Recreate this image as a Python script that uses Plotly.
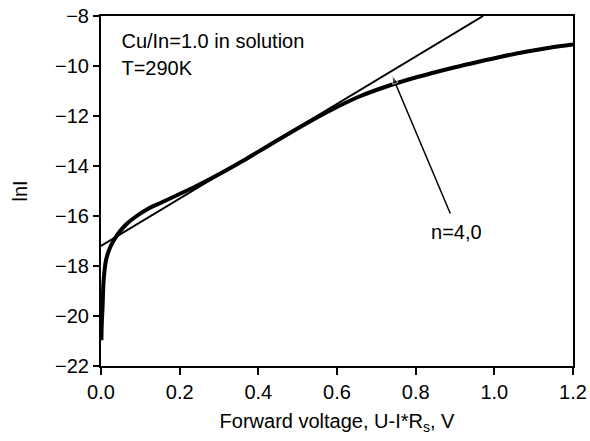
import plotly.graph_objects as go

# Measured curve lnI vs forward voltage
volt = [0.001, 0.002, 0.004, 0.0068, 0.0127, 0.0236, 0.0407, 0.0618, 0.087, 0.121,
        0.155, 0.197, 0.24, 0.30, 0.36, 0.42, 0.48, 0.54, 0.60, 0.66,
        0.72, 0.78, 0.84, 0.90, 0.96, 1.02, 1.08, 1.14, 1.2]
ln_i = [-20.97, -20.3, -19.64, -18.57, -17.77, -17.24, -16.77, -16.37, -16.04, -15.7,
        -15.45, -15.14, -14.82, -14.33, -13.80, -13.24, -12.68, -12.14, -11.64, -11.20,
        -10.85, -10.55, -10.29, -10.05, -9.83, -9.62, -9.43, -9.27, -9.14]

# Linear fit (n = 4.0)
fit_x = [0.0, 0.9715]
fit_y = [-17.2, -8.0]

# Text notes and pointer arrow (data coordinates)
note_x = [0.052, 0.052]
note_y = [-9.08, -10.15]
note_text = ["Cu/In=1.0 in solution", "T=290K"]
label_x = [0.9035]
label_y = [-16.73]
label_text = ["n=4,0"]
arrow_x = [0.888, 0.740]
arrow_y = [-15.9, -10.38]

x_ticks = [0.0, 0.2, 0.4, 0.6, 0.8, 1.0, 1.2]
y_ticks = [-22, -20, -18, -16, -14, -12, -10, -8]

FONT = "Arial"

fig = go.Figure()
fig.add_trace(go.Scatter(x=fit_x, y=fit_y, mode="lines",
                         line=dict(color="black", width=2), showlegend=False))
fig.add_trace(go.Scatter(x=volt, y=ln_i, mode="lines", line_shape="spline",
                         line=dict(color="black", width=4), showlegend=False))
fig.add_trace(go.Scatter(x=arrow_x, y=arrow_y, mode="lines+markers",
                         line=dict(color="black", width=1.5),
                         marker=dict(symbol="arrow", size=[0, 9], color="black",
                                     angleref="previous"),
                         showlegend=False))
fig.add_trace(go.Scatter(x=note_x, y=note_y, mode="text", text=note_text,
                         textposition="middle right",
                         textfont=dict(size=20, color="black", family=FONT),
                         showlegend=False))
fig.add_trace(go.Scatter(x=label_x, y=label_y, mode="text", text=label_text,
                         textposition="middle center",
                         textfont=dict(size=20, color="black", family=FONT),
                         showlegend=False))

common = dict(showgrid=False, zeroline=False, tickcolor="black", tickwidth=2,
              showline=True, linecolor="black", linewidth=2, mirror=True,
              tickfont=dict(size=20, family=FONT, color="black"),
              automargin=False)

fig.update_xaxes(range=[0, 1.2], tickvals=x_ticks, tickformat=".1f",
                 ticks="outside", ticklen=7,
                 title=dict(text="Forward voltage, U-I*R<sub>s</sub>, V",
                            font=dict(size=20, family=FONT, color="black"),
                            standoff=12),
                 **common)
fig.update_yaxes(range=[-22, -8], tickvals=y_ticks,
                 ticks="outside", ticklen=6,
                 title=dict(text="lnI",
                            font=dict(size=20, family=FONT, color="black"),
                            standoff=22),
                 **common)
fig.update_layout(
    width=590, height=441,
    margin=dict(l=101, r=17, t=16, b=75),
    plot_bgcolor="white", paper_bgcolor="white",
    font=dict(family=FONT, size=20, color="black"),
)

fig.write_html("out.html")
